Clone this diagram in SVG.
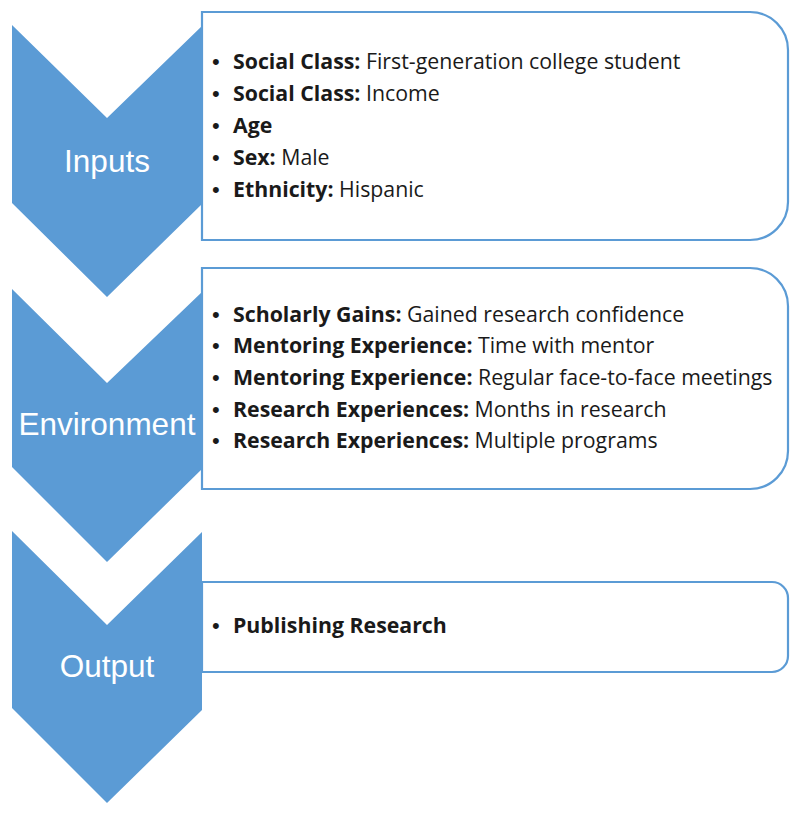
<svg xmlns="http://www.w3.org/2000/svg" width="800" height="815" viewBox="0 0 800 815">
<style>
.chev{fill:#5B9BD5;}
.box{fill:#fff;stroke:#5B9BD5;stroke-width:2.2;}
.lbl{font-family:"Liberation Sans",Arial,sans-serif;font-size:31.5px;fill:#fff;text-anchor:middle;}
.txt{font-family:"Open Sans","Liberation Sans",Arial,sans-serif;font-size:21.3px;fill:#1a1a1a;}
.bul{font-family:"Liberation Sans",Arial,sans-serif;font-size:22px;fill:#1a1a1a;}
.b{font-weight:bold;}
</style>
<rect width="800" height="815" fill="#fff"/>
<g id="inputs">
<polygon class="chev" points="12,25 107,118 202,26 202,204 107,297 12,203"/>
<text class="lbl" x="107" y="172">Inputs</text>
</g>
<g id="inputs-box">
<path class="box" d="M202,12 H750 A38,38 0 0 1 788,50 V202 A38,38 0 0 1 750,240 H202 Z"/>
<g class="bul"><text x="212" y="69">•</text><text x="212" y="101">•</text><text x="212" y="133">•</text><text x="212" y="165">•</text><text x="212" y="197">•</text></g>
<text class="txt" x="233" y="69"><tspan class="b">Social Class:</tspan> First-generation college student</text>
<text class="txt" x="233" y="101"><tspan class="b">Social Class:</tspan> Income</text>
<text class="txt" x="233" y="133"><tspan class="b">Age</tspan></text>
<text class="txt" x="233" y="165"><tspan class="b">Sex:</tspan> Male</text>
<text class="txt" x="233" y="197"><tspan class="b">Ethnicity:</tspan> Hispanic</text>
</g>
<g id="environment">
<polygon class="chev" points="12,289 107,383 202,292 202,469 107,562 12,467"/>
<text class="lbl" x="107" y="435">Environment</text>
</g>
<g id="environment-box">
<path class="box" d="M202,268 H750 A38,38 0 0 1 788,306 V451 A38,38 0 0 1 750,489 H202 Z"/>
<g class="bul"><text x="212" y="322">•</text><text x="212" y="353">•</text><text x="212" y="385">•</text><text x="212" y="417">•</text><text x="212" y="448">•</text></g>
<text class="txt" x="233" y="322"><tspan class="b">Scholarly Gains:</tspan> Gained research confidence</text>
<text class="txt" x="233" y="353"><tspan class="b">Mentoring Experience:</tspan> Time with mentor</text>
<text class="txt" x="233" y="385"><tspan class="b">Mentoring Experience:</tspan> Regular face-to-face meetings</text>
<text class="txt" x="233" y="417"><tspan class="b">Research Experiences:</tspan> Months in research</text>
<text class="txt" x="233" y="448"><tspan class="b">Research Experiences:</tspan> Multiple programs</text>
</g>
<g id="output">
<polygon class="chev" points="12,531 107,625 202,532 202,710 107,803 12,708"/>
<text class="lbl" x="107" y="677">Output</text>
</g>
<g id="output-box">
<path class="box" d="M202,582 H772 A16,16 0 0 1 788,598 V656 A16,16 0 0 1 772,672 H202 Z"/>
<text class="bul" x="212" y="633">•</text>
<text class="txt" x="233" y="633"><tspan class="b">Publishing Research</tspan></text>
</g>
<g id="connectors"></g>
</svg>
